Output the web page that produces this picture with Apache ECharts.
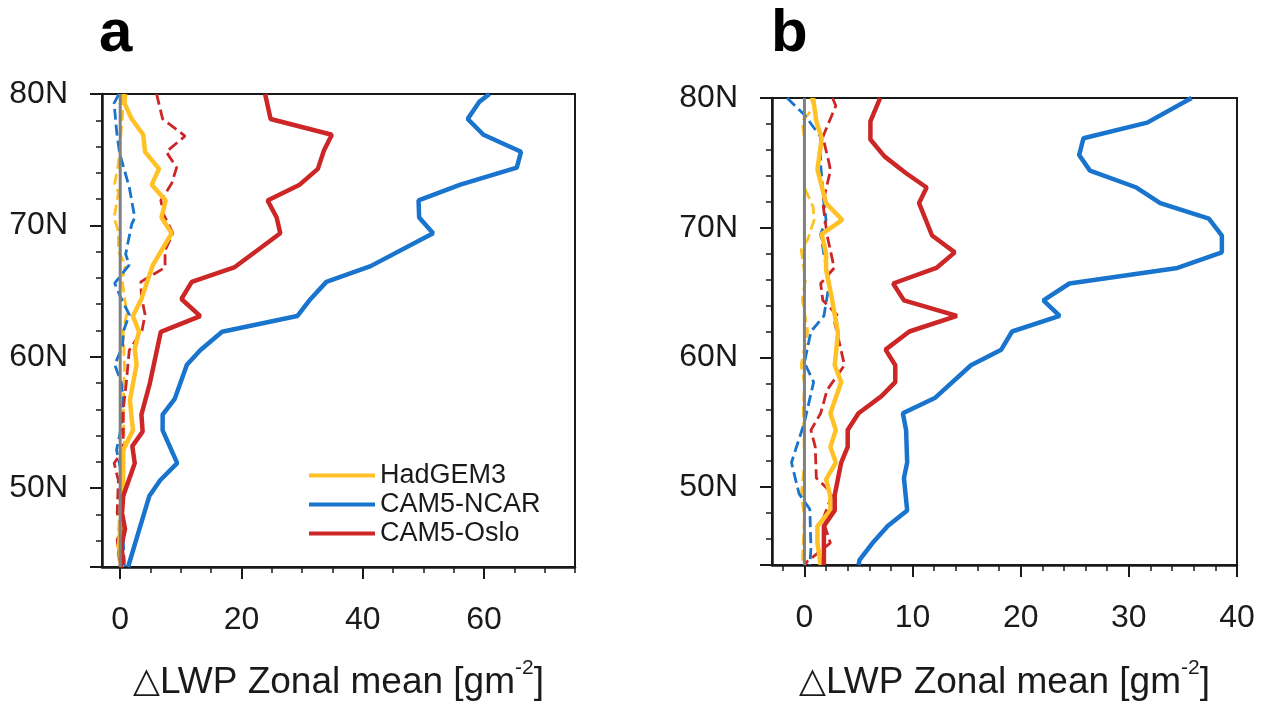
<!DOCTYPE html>
<html>
<head>
<meta charset="utf-8">
<script src="https://cdn.jsdelivr.net/npm/echarts@6/dist/echarts.min.js"></script>
<style>
  html, body { margin: 0; padding: 0; background: #fff; }
  #main { width: 1266px; height: 704px; }
</style>
</head>
<body>
<div id="main"></div>
<script>
// values: [delta LWP, latitude]
const aHadSolid = [[0.8,80],[0.7,79.3],[1.9,78.1],[3.8,76.9],[4.1,75.6],[6.4,74.3],[5.2,73.1],[7.5,71.9],[6.8,70.6],[8.5,69.4],[5.4,67.0],[3.5,64.4],[2.1,63.1],[3.1,61.9],[2.4,60.6],[2.7,59.4],[1.6,56.7],[2.1,54.4],[0.5,52.9],[0.5,49.9],[-0.2,45.6],[0.3,44]]
const aNcarSolid = [[60.9,80],[59.2,79.4],[57.3,78.1],[59.9,76.9],[66.1,75.6],[65.4,74.4],[56.1,73.1],[49.2,71.9],[49.3,70.6],[51.6,69.4],[41.3,66.9],[34.0,65.7],[31.4,64.4],[29.2,63.1],[16.8,61.9],[13.2,60.5],[11.0,59.4],[9.0,56.8],[7.0,55.6],[7.0,54.4],[9.4,51.9],[6.6,50.6],[4.8,49.4],[2.4,45.7],[1.3,44]]
const aOsloSolid = [[23.9,80],[24.8,78.1],[34.9,76.9],[33.6,75.7],[32.6,74.3],[29.6,73.1],[24.3,71.9],[25.8,70.6],[26.4,69.4],[18.8,66.8],[11.8,65.7],[10.1,64.4],[13.2,63.1],[6.7,61.9],[4.9,58.0],[3.5,55.6],[3.7,54.3],[2.0,53.2],[2.4,51.9],[0.5,49.4],[0.3,48.1],[0.8,46.9],[0.2,45.6],[0.5,44.4],[0,44]]
const aHadDash = [[0.3,80],[0.4,78.5],[-0.3,74.7],[-0.9,73.2],[-0.3,72.5],[-1.0,70.6],[-0.3,69.5],[-0.3,68.0],[0.9,67.0],[0.3,65.9],[1.1,63.3],[0.5,62.0],[0.7,59.3],[0.5,56.0],[0.7,53.2],[0.3,50.2],[-0.5,45.6],[0,44]]
const aNcarDash = [[-0.2,80],[-1.0,79.3],[-0.6,77.2],[-0.1,75.5],[1.5,72.9],[2.4,70.6],[1.9,70.1],[0.9,67.8],[1.5,67.0],[-0.9,65.6],[0,64.6],[1.5,63.2],[0.5,61.9],[0.4,60.8],[-0.9,59.4],[0.2,58.0],[0.5,56.8],[0.2,54.7],[-0.6,52.9],[0,51.6],[0.2,50.1],[0,48.2],[0.5,46.1],[0.7,44]]
const aOsloDash = [[6.0,80],[7.0,78.1],[10.7,76.8],[7.6,75.6],[9.3,74.4],[8.5,73.2],[6.7,71.9],[7.2,70.8],[8.7,69.4],[7.4,68.1],[7.4,66.8],[3.4,65.7],[3.5,64.6],[4.1,63.2],[3.6,62.0],[1.5,60.5],[1.0,58.0],[0.5,56.0],[0.5,52.9],[-1.0,51.9],[-0.3,50.6],[-0.5,48.1],[0.5,46.8],[-0.5,46.1],[0,44]]

const bHadSolid = [[0.8,80],[1.1,78.2],[1.6,76.9],[1.2,74.5],[2.0,71.9],[3.5,70.6],[1.6,69.5],[2.0,68.0],[2.0,66.8],[2.5,64.7],[3.1,61.9],[2.8,59.4],[3.4,58.1],[2.4,55.7],[2.9,54.4],[2.4,53.1],[2.9,51.9],[2.0,50.6],[2.4,49.3],[2.4,48.2],[1.2,47.0],[1.2,45.7],[1.5,44]]
const bNcarSolid = [[35.8,80],[31.7,78.1],[25.8,76.9],[25.4,75.6],[26.4,74.4],[30.7,73.1],[32.9,71.9],[37.4,70.7],[38.6,69.4],[38.6,68.1],[34.5,66.9],[24.5,65.7],[22.1,64.4],[23.6,63.2],[19.2,62.0],[18.2,60.6],[15.4,59.4],[12.1,56.9],[9.1,55.7],[9.4,54.4],[9.5,51.9],[9.2,50.7],[9.5,48.2],[7.7,47.0],[6.4,45.8],[5.1,44.4],[5.0,44]]
const bOsloSolid = [[7.0,80],[6.1,78.2],[6.1,76.8],[7.4,75.5],[9.4,74.2],[11.3,73.1],[10.6,71.9],[11.8,69.4],[13.9,68.1],[12.2,66.9],[8.2,65.7],[9.2,64.4],[14.1,63.2],[9.7,62.0],[7.5,60.6],[8.4,59.4],[8.4,58.1],[7.1,57.0],[5.0,55.7],[4.0,54.4],[4.0,53.1],[3.4,51.9],[2.8,49.4],[2.8,48.2],[1.8,47.0],[1.8,44]]
const bHadDash = [[0.6,80],[0.9,79.3],[-0.2,78.2],[0,76.8],[0,73.1],[0.8,71.6],[0.9,70.6],[0.3,69.1],[-0.3,68.3],[0.1,66.0],[-0.2,64.5],[0.3,62.0],[-0.3,59.4],[0,58.0],[-0.1,56.0],[0,51.9],[-0.3,49.3],[0,47.8],[-0.2,44]]
const bNcarDash = [[-1.6,80],[0,78.7],[1.5,77.0],[1.5,74.9],[1.8,71.9],[2.0,70.6],[1.5,69.5],[1.8,68.0],[2.3,65.7],[1.8,63.2],[0.6,62.0],[0.1,60.0],[0,59.6],[0.85,58.1],[0,55.0],[-1.2,51.9],[-0.5,49.5],[0.5,48.3],[0.6,45.3],[0.5,44]]
const bOsloDash = [[2.6,80],[2.9,79.4],[1.7,77.0],[2.3,74.9],[2.4,74.4],[1.7,71.9],[2.1,69.4],[2.75,66.9],[1.5,65.7],[1.7,64.4],[3.1,63.2],[2.8,62.7],[3.7,59.4],[2.1,57.5],[1.5,55.7],[0.6,54.4],[1.0,53.1],[1.1,50.7],[2.6,49.5],[1.7,47.5],[2.4,45.7],[0.3,44.3],[0,44]]

const models = ['HadGEM3', 'CAM5-NCAR', 'CAM5-Oslo']
const latTicks = [50, 60, 70, 80]
const latMajor = [44, 50, 60, 70, 80]
const latMinor = [46, 48, 52, 54, 56, 58, 62, 64, 66, 68, 72, 74, 76, 78]
const aTicks = [0, 20, 40, 60]
const aMinor = [5, 10, 15, 25, 30, 35, 45, 50, 55, 65, 70, 75]
const bTicks = [0, 10, 20, 30, 40]
const bMinor = [-2, 2, 4, 6, 8, 12, 14, 16, 18, 22, 24, 26, 28, 32, 34, 36, 38]

const colors = ['#FFC125', '#1874CD', '#CD2626']
const font = 'Liberation Sans, Arial, Helvetica, sans-serif'
const ink = '#1a1a1a'

const chart = echarts.init(document.getElementById('main'))

function xAxis(gridIndex, min, max, major, minor, gap) {
  return [
    {
      type: 'value', gridIndex, min, max, position: 'bottom',
      axisLine: { onZero: false, lineStyle: { color: ink, width: 2.5 } },
      axisTick: { length: 12, customValues: major, lineStyle: { color: ink, width: 2 } },
      axisLabel: { customValues: major, fontSize: 32, fontFamily: font, color: ink, margin: 37 },
      splitLine: { show: false },
      name: '{tri|△}LWP Zonal mean [gm{sup|-2}]',
      nameLocation: 'middle',
      nameGap: gap,
      nameTextStyle: {
        fontSize: 37, fontFamily: font, color: ink, lineHeight: 50,
        rich: {
          tri: { fontSize: 35, fontFamily: 'DejaVu Sans', color: ink, lineHeight: 50 },
          sup: { fontSize: 21, fontFamily: font, color: ink, lineHeight: 21, verticalAlign: 'top' },
        },
      },
    },
    {
      type: 'value', gridIndex, min, max, position: 'bottom',
      axisLine: { show: false, onZero: false },
      axisTick: { length: 6, customValues: minor, lineStyle: { color: ink, width: 1.5 } },
      axisLabel: { show: false },
      splitLine: { show: false },
    },
  ]
}

function yAxis(gridIndex) {
  return [
    {
      type: 'value', gridIndex, min: 44, max: 80, position: 'left',
      axisLine: { onZero: false, lineStyle: { color: ink, width: 2.5 } },
      axisTick: { length: 12, customValues: latMajor, lineStyle: { color: ink, width: 2 } },
      axisLabel: { customValues: latTicks, formatter: '{value}N', fontSize: 32, fontFamily: font, color: ink, margin: 34 },
      splitLine: { show: false },
    },
    {
      type: 'value', gridIndex, min: 44, max: 80, position: 'left',
      axisLine: { show: false, onZero: false },
      axisTick: { length: 6, customValues: latMinor, lineStyle: { color: ink, width: 1.5 } },
      axisLabel: { show: false },
      splitLine: { show: false },
    },
  ]
}

function line(name, data, color, axis, dashed) {
  return {
    name, type: 'line', data,
    xAxisIndex: axis, yAxisIndex: axis,
    showSymbol: false, symbol: 'none', silent: true,
    color,
    lineStyle: dashed ? { color, width: 2.8, type: [11, 5] } : { color, width: 4.5 },
    z: dashed ? 2 : 3,
  }
}

function zeroLine(axis) {
  return {
    name: 'zero', type: 'line', data: [[0, 44], [0, 80]],
    xAxisIndex: axis, yAxisIndex: axis, symbol: 'none', silent: true,
    lineStyle: { color: '#808080', width: 3 }, z: 4,
  }
}

const panelA = [aHadSolid, aNcarSolid, aOsloSolid]
const panelADash = [aHadDash, aNcarDash, aOsloDash]
const panelB = [bHadSolid, bNcarSolid, bOsloSolid]
const panelBDash = [bHadDash, bNcarDash, bOsloDash]

const series = []
models.forEach((m, i) => {
  series.push(line(m + ' (dashed)', panelADash[i], colors[i], 0, true))
  series.push(line(m + ' (dashed)', panelBDash[i], colors[i], 2, true))
})
models.forEach((m, i) => {
  series.push(line(m, panelA[i], colors[i], 0, false))
  series.push(line(m, panelB[i], colors[i], 2, false))
})
series.push(zeroLine(0), zeroLine(2))

chart.setOption({
  animation: false,
  backgroundColor: '#fff',
  title: [
    { text: 'a', left: 99, top: 4, padding: 0, textStyle: { fontSize: 60, fontWeight: 'bold', fontFamily: font, color: '#000' } },
    { text: 'b', left: 771, top: 4, padding: 0, textStyle: { fontSize: 60, fontWeight: 'bold', fontFamily: font, color: '#000' } },
  ],
  legend: {
    data: models,
    orient: 'vertical',
    left: 309, top: 462, padding: 0,
    itemWidth: 66, itemHeight: 4, itemGap: 2,
    icon: 'rect',
    textStyle: { fontSize: 27, fontFamily: font, color: ink },
    selectedMode: false,
  },
  grid: [
    { left: 102, top: 94, width: 473, height: 473, show: true, borderColor: ink, borderWidth: 2, containLabel: false, outerBoundsMode: 'none' },
    { left: 772, top: 98, width: 465, height: 467, show: true, borderColor: ink, borderWidth: 2, containLabel: false, outerBoundsMode: 'none' },
  ],
  xAxis: [...xAxis(0, -3, 75, aTicks, aMinor, 91), ...xAxis(1, -3, 40, bTicks, bMinor, 93)],
  yAxis: [...yAxis(0), ...yAxis(1)],
  series,
})
</script>
</body>
</html>
